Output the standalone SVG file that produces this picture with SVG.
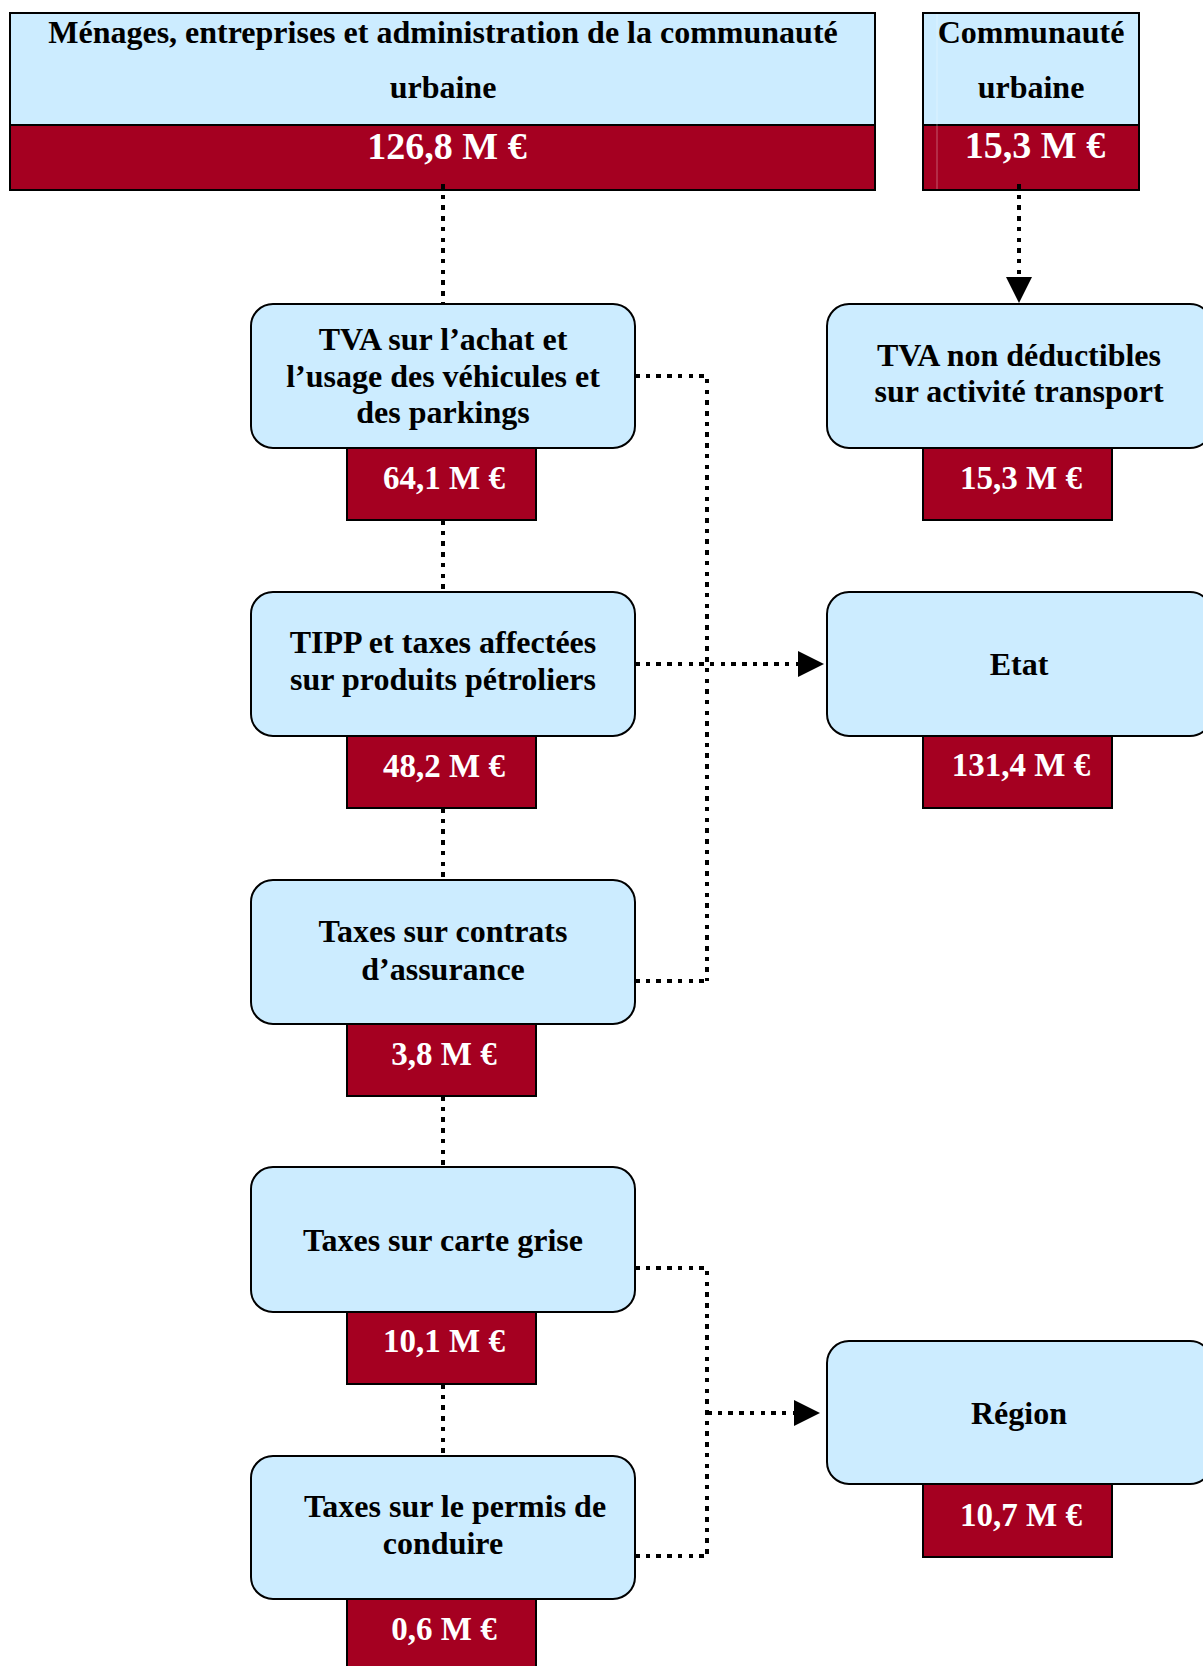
<svg xmlns="http://www.w3.org/2000/svg" width="1203" height="1666" viewBox="0 0 1203 1666">
<style>
.hdr{fill:#CCECFF;stroke:#000;stroke-width:2}
.box{fill:#CCECFF;stroke:#000;stroke-width:2}
.val{fill:#A50021;stroke:#000;stroke-width:2}
.t{font-family:"Liberation Serif","Times New Roman",serif;font-weight:bold;font-size:32px;fill:#000;text-anchor:middle}
.v{font-family:"Liberation Serif","Times New Roman",serif;font-weight:bold;font-size:33px;fill:#fff;text-anchor:middle}
.hv{font-family:"Liberation Serif","Times New Roman",serif;font-weight:bold;font-size:38px;fill:#fff;text-anchor:middle}
.c{fill:none;stroke:#000;stroke-width:4.4;stroke-dasharray:4.5 6.2;shape-rendering:crispEdges}
</style>
<defs>
<marker id="arr" markerUnits="userSpaceOnUse" markerWidth="27" markerHeight="27" refX="0" refY="13" orient="auto" overflow="visible">
<path d="M0,0 L26,13 L0,26 z" fill="#000"/>
</marker>
</defs>
<rect width="1203" height="1666" fill="#fff"/>

<g id="menages">
<rect class="hdr" x="10" y="13" width="865" height="112"/>
<rect class="val" x="10" y="125" width="865" height="65"/>
<text class="t" x="443" y="43">Ménages, entreprises et administration de la communauté</text>
<text class="t" x="443" y="98">urbaine</text>
<text class="hv" x="447" y="159">126,8 M €</text>
</g>

<g id="communaute">
<rect class="hdr" x="923" y="13" width="216" height="112"/>
<rect class="val" x="923" y="125" width="216" height="65"/>
<line x1="937" y1="14" x2="937" y2="189" stroke="#fff" stroke-opacity="0.35" stroke-width="1"/>
<text class="t" x="1031" y="43">Communauté</text>
<text class="t" x="1031" y="98">urbaine</text>
<text class="hv" x="1035" y="158">15,3 M €</text>
</g>

<g id="tva">
<rect class="box" x="251" y="304" width="384" height="144" rx="22"/>
<rect class="val" x="347" y="448" width="189" height="72"/>
<text class="t" x="443" y="350">TVA sur l’achat et</text>
<text class="t" x="443" y="387">l’usage des véhicules et</text>
<text class="t" x="443" y="423">des parkings</text>
<text class="v" x="444" y="489">64,1 M €</text>
</g>

<g id="tipp">
<rect class="box" x="251" y="592" width="384" height="144" rx="22"/>
<rect class="val" x="347" y="736" width="189" height="72"/>
<text class="t" x="443" y="653">TIPP et taxes affectées</text>
<text class="t" x="443" y="690">sur produits pétroliers</text>
<text class="v" x="444" y="777">48,2 M €</text>
</g>

<g id="assurance">
<rect class="box" x="251" y="880" width="384" height="144" rx="22"/>
<rect class="val" x="347" y="1024" width="189" height="72"/>
<text class="t" x="443" y="942">Taxes sur contrats</text>
<text class="t" x="443" y="980">d’assurance</text>
<text class="v" x="444" y="1065">3,8 M €</text>
</g>

<g id="cartegrise">
<rect class="box" x="251" y="1167" width="384" height="145" rx="22"/>
<rect class="val" x="347" y="1312" width="189" height="72"/>
<text class="t" x="443" y="1251">Taxes sur carte grise</text>
<text class="v" x="444" y="1352">10,1 M €</text>
</g>

<g id="permis">
<rect class="box" x="251" y="1456" width="384" height="143" rx="22"/>
<rect class="val" x="347" y="1599" width="189" height="72"/>
<text class="t" x="455" y="1517">Taxes sur le permis de</text>
<text class="t" x="443" y="1554">conduire</text>
<text class="v" x="444" y="1640">0,6 M €</text>
</g>

<g id="tvand">
<rect class="box" x="827" y="304" width="385" height="144" rx="22"/>
<rect class="val" x="923" y="448" width="189" height="72"/>
<text class="t" x="1019" y="366">TVA non déductibles</text>
<text class="t" x="1019" y="402">sur activité transport</text>
<text class="v" x="1021" y="489">15,3 M €</text>
</g>

<g id="etat">
<rect class="box" x="827" y="592" width="385" height="144" rx="22"/>
<rect class="val" x="923" y="736" width="189" height="72"/>
<text class="t" x="1019" y="675">Etat</text>
<text class="v" x="1021" y="776">131,4 M €</text>
</g>

<g id="region">
<rect class="box" x="827" y="1341" width="385" height="143" rx="22"/>
<rect class="val" x="923" y="1484" width="189" height="73"/>
<text class="t" x="1019" y="1424">Région</text>
<text class="v" x="1021" y="1526">10,7 M €</text>
</g>

<g id="connectors">
<path class="c" d="M443,184 V304"/>
<path class="c" d="M443,520 V592"/>
<path class="c" d="M443,808 V880"/>
<path class="c" d="M443,1096 V1167"/>
<path class="c" d="M443,1384 V1456"/>
<path class="c" d="M1019,184 V277" marker-end="url(#arr)"/>
<path class="c" d="M635,376 H707 V981 M635,981 H710"/>
<path class="c" d="M635,664 H798" marker-end="url(#arr)"/>
<path class="c" d="M635,1268 H707 V1556 M635,1556 H710"/>
<path class="c" d="M707,1413 H794" marker-end="url(#arr)"/>
</g>
</svg>
